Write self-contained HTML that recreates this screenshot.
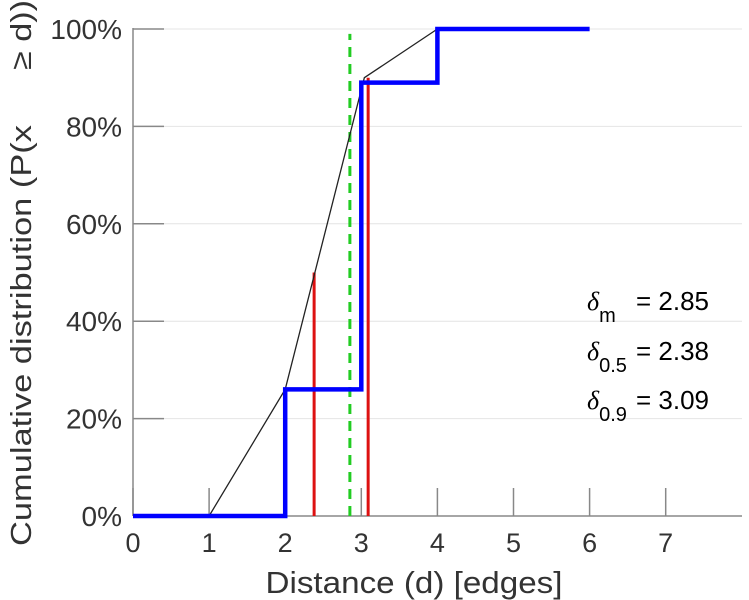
<!DOCTYPE html>
<html><head><meta charset="utf-8"><style>
body{margin:0;background:#fff}
svg{display:block;font-family:"Liberation Sans",sans-serif}
</style></head><body>
<svg id="chart" width="749" height="600" viewBox="0 0 749 600">
<g id="grid"></g>
<g id="axes"></g>
<g id="series"></g>
<text x="414" y="593" font-size="31" text-anchor="middle" fill="#333" textLength="297" lengthAdjust="spacingAndGlyphs">Distance (d) [edges]</text>
<text transform="translate(31,546) rotate(-90)" font-size="29" fill="#333" textLength="421" lengthAdjust="spacingAndGlyphs">Cumulative distribution (P(x</text>
<text transform="translate(31,70) rotate(-90)" font-size="29" fill="#333" textLength="70" lengthAdjust="spacingAndGlyphs">≥ d))</text>
<g font-size="26" fill="#000">
<text x="587" y="310"><tspan font-style="italic" font-family="Liberation Serif">δ</tspan><tspan dy="12" font-size="20">m</tspan><tspan dy="-12" x="636">= 2.85</tspan></text>
<text x="587" y="360"><tspan font-style="italic" font-family="Liberation Serif">δ</tspan><tspan dy="12" font-size="20">0.5</tspan><tspan dy="-12" x="636">= 2.38</tspan></text>
<text x="587" y="409"><tspan font-style="italic" font-family="Liberation Serif">δ</tspan><tspan dy="12" font-size="20">0.9</tspan><tspan dy="-12" x="636">= 3.09</tspan></text>
</g>
</svg>
<script>
const xTicks=[0,1,2,3,4,5,6,7];
const yTicks=[0,20,40,60,80,100];
const stepX=[0,2,2,3,3,4,4,6];
const stepY=[0,0,26,26,89,89,100,100];
const interpX=[1,2,3.04,4];
const interpY=[0,26,90,100];
const redX=[2.38,3.09];
const redY=[50,90];
const meanX=2.85;
const meanTop=99;
const NS='http://www.w3.org/2000/svg';
const X=v=>133+v*76.1, Y=v=>516-v*4.87;
function mk(t,a,p){const e=document.createElementNS(NS,t);for(const k in a)e.setAttribute(k,a[k]);p.appendChild(e);return e;}
const grid=document.getElementById('grid'),axes=document.getElementById('axes'),ser=document.getElementById('series');
yTicks.forEach(v=>{
 if(v>0){const g=mk('line',{x1:133,x2:742,y1:Y(v),y2:Y(v),stroke:'#e4e4e4','stroke-width':1},grid);
 
 }
 const t=mk('line',{x1:133,x2:164,y1:Y(v),y2:Y(v),stroke:'#888','stroke-width':1.5},axes);
 
 
 const l=mk('text',{x:122,y:Y(v)+10,'font-size':28,'text-anchor':'end',fill:'#333'},axes);l.textContent=v+'%';
 
 
});
xTicks.forEach(v=>{
 const t=mk('line',{x1:X(v),x2:X(v),y1:516,y2:488,stroke:'#888','stroke-width':1.5},axes);
 
 
 const l=mk('text',{x:X(v),y:552,'font-size':27,'text-anchor':'middle',fill:'#333'},axes);l.textContent=v;
 
 
});
const xa=mk('line',{x1:133,x2:742,y1:516,y2:516,stroke:'#888','stroke-width':1.5},axes);


const ya=mk('line',{x1:133,x2:133,y1:516,y2:28,stroke:'#888','stroke-width':1.5},axes);


const gm=mk('line',{x1:X(meanX),x2:X(meanX),y1:516,y2:Y(meanTop),stroke:'#22cc22','stroke-width':3,'stroke-dasharray':'10,7'},ser);


redX.forEach((v,i)=>{const r=mk('line',{x1:X(v),x2:X(v),y1:516,y2:Y(redY[i]),stroke:'#dd1111','stroke-width':3},ser);
 
 });
const ip=mk('polyline',{points:interpX.map((v,i)=>X(v)+','+Y(interpY[i])).join(' '),fill:'none',stroke:'#222','stroke-width':1.3},ser);


const st=mk('polyline',{points:stepX.map((v,i)=>X(v)+','+Y(stepY[i])).join(' '),fill:'none',stroke:'#0000ff','stroke-width':4.5},ser);


</script>
</body></html>
